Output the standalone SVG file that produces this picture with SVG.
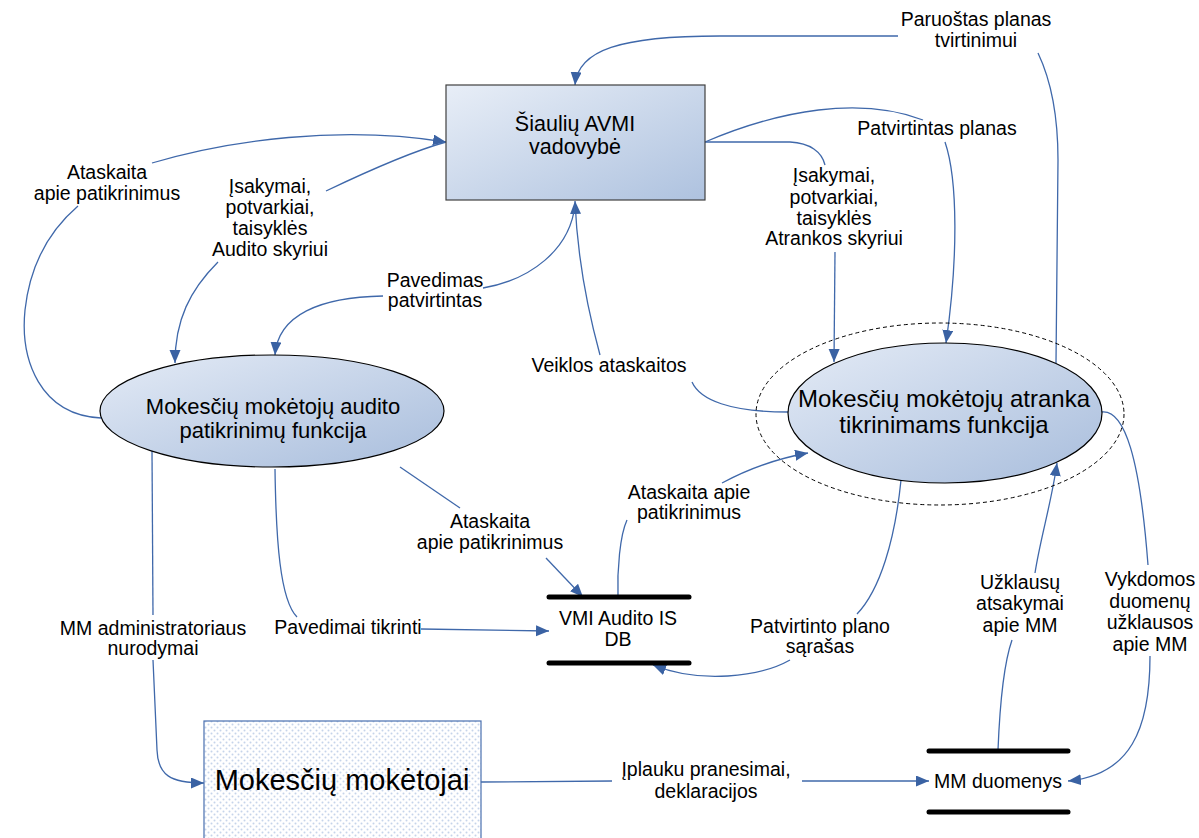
<svg xmlns="http://www.w3.org/2000/svg" width="1199" height="838" viewBox="0 0 1199 838">
<style>
.lbl{font-family:"Liberation Sans",Arial,sans-serif;font-size:19.5px;fill:#000;text-anchor:middle}
.big{font-family:"Liberation Sans",Arial,sans-serif;fill:#000;text-anchor:middle}
.cn{fill:none;stroke:#3f68aa;stroke-width:1.3}
.ar{marker-end:url(#ah)}
.store{stroke:#000;stroke-width:5;stroke-linecap:round}
</style>
<defs>
<marker id="ah" markerUnits="userSpaceOnUse" markerWidth="14" markerHeight="12" refX="13" refY="5.5" orient="auto">
<path d="M0,0 L13,5.5 L0,11 z" fill="#3a62a3"/>
</marker>
<linearGradient id="gr" x1="0" y1="0" x2="1" y2="1">
<stop offset="0" stop-color="#e8eef7"/>
<stop offset="1" stop-color="#aec2df"/>
</linearGradient>
<linearGradient id="ge" x1="0" y1="0" x2="1" y2="1">
<stop offset="0" stop-color="#e4ebf6"/>
<stop offset="1" stop-color="#a8bddc"/>
</linearGradient>
<pattern id="dots" patternUnits="userSpaceOnUse" width="6" height="6">
<rect width="6" height="6" fill="#fff"/>
<circle cx="1.5" cy="1.5" r="1" fill="#c6d4ea"/>
<circle cx="4.5" cy="4.5" r="1" fill="#c6d4ea"/>
</pattern>
</defs>

<g id="connectors">
<!-- Paruoštas planas tvirtinimui -->
<path class="cn" d="M1056,363 L1058,160 Q1058,95 1038,53"/>
<path class="cn ar" d="M898,36 L720,36 C620,36 578,50 575,85"/>
<!-- Patvirtintas planas -->
<path class="cn" d="M705,142 C780,110 860,96 923,120"/>
<path class="cn ar" d="M945,142 C958,180 958,260 946,343"/>
<!-- Įsakymai Atrankos -->
<path class="cn" d="M705,142 L790,142 C810,143 822,152 825,165"/>
<path class="cn ar" d="M835,252 L834,362"/>
<!-- Veiklos ataskaitos -->
<path class="cn" d="M788,412 C730,412 700,400 692,382"/>
<path class="cn ar" d="M600,355 C585,300 577,250 575,201"/>
<!-- Pavedimas patvirtintas -->
<path class="cn" d="M483,288 C530,280 570,250 575,205"/>
<path class="cn ar" d="M383,296 C320,297 278,315 275,355"/>
<!-- Ataskaita apie patikrinimus (left) -->
<path class="cn" d="M101,418 C40,415 20,360 25,310 C30,265 50,230 78,206"/>
<path class="cn ar" d="M152,163 C230,140 340,125 446,142"/>
<!-- Įsakymai Audito -->
<path class="cn" d="M326,191 C370,170 410,152 446,142"/>
<path class="cn ar" d="M218,262 C190,290 175,320 175,363"/>
<!-- Ataskaita apie patikrinimus (middle) -->
<path class="cn" d="M400,467 L460,508"/>
<path class="cn ar" d="M546,558 L583,597"/>
<!-- Ataskaita apie patikrinimus (DB to right) -->
<path class="cn" d="M618,597 C617,570 620,535 627,520"/>
<path class="cn ar" d="M722,483 C750,468 780,458 808,453"/>
<!-- Pavedimai tikrinti -->
<path class="cn" d="M275,469 C276,540 280,600 297,617"/>
<path class="cn ar" d="M421,629 L549,631"/>
<!-- Patvirtinto plano sąrašas -->
<path class="cn" d="M901,480 C895,540 880,590 857,614"/>
<path class="cn ar" d="M790,660 C760,677 700,684 653,665"/>
<!-- Užklausų atsakymai -->
<path class="cn" d="M998,750 C1000,700 1005,660 1012,640"/>
<path class="cn ar" d="M1035,573 C1040,540 1052,500 1057,463"/>
<!-- Vykdomos užklausos -->
<path class="cn" d="M1101,412 C1125,408 1140,460 1148,565"/>
<path class="cn ar" d="M1150,656 C1150,730 1130,775 1068,781"/>
<!-- MM administratoriaus -->
<path class="cn" d="M152,451 L153,615"/>
<path class="cn ar" d="M153,660 L157,750 C158,775 170,783 204,783"/>
<!-- Įplauku pranesimai -->
<path class="cn" d="M481,782 L612,781"/>
<path class="cn ar" d="M802,781 L929,781"/>
</g>

<g id="vadovybe">
<rect x="446" y="85" width="259" height="115" fill="url(#gr)" stroke="#404040" stroke-width="1.2"/>
<text class="big" font-size="21.5" x="575" y="131">Šiaulių AVMI</text>
<text class="big" font-size="21.5" x="575" y="154">vadovybė</text>
</g>

<g id="audito-funkcija">
<ellipse cx="272" cy="411" rx="172" ry="56" fill="url(#ge)" stroke="#000" stroke-width="1.2"/>
<text class="big" font-size="22" x="273" y="414">Mokesčių mokėtojų audito</text>
<text class="big" font-size="22" x="273" y="438">patikrinimų funkcija</text>
</g>

<g id="atranka-funkcija">
<ellipse cx="940" cy="414" rx="184" ry="91" fill="none" stroke="#000" stroke-width="1" stroke-dasharray="4,3"/>
<ellipse cx="945" cy="413" rx="157" ry="70" fill="url(#ge)" stroke="#000" stroke-width="1.2"/>
<text class="big" font-size="24" x="944" y="407">Mokesčių mokėtojų atranka</text>
<text class="big" font-size="24" x="944" y="433">tikrinimams funkcija</text>
</g>

<g id="vmi-db">
<line class="store" x1="549" y1="597" x2="689" y2="597"/>
<line class="store" x1="549" y1="663" x2="689" y2="663"/>
<text class="lbl" x="618" y="625">VMI Audito IS</text>
<text class="lbl" x="618" y="646">DB</text>
</g>

<g id="mm-duomenys">
<line class="store" x1="929" y1="751" x2="1068" y2="751"/>
<line class="store" x1="929" y1="812" x2="1068" y2="812"/>
<text class="lbl" x="998" y="788">MM duomenys</text>
</g>

<g id="mokesciu-moketojai">
<rect x="204" y="721" width="277" height="130" fill="url(#dots)" stroke="#4a70b0" stroke-width="1.2"/>
<text class="big" font-size="29" x="342" y="790">Mokesčių mokėtojai</text>
</g>

<g id="labels">
<text class="lbl" x="976" y="26">Paruoštas planas</text>
<text class="lbl" x="976" y="47">tvirtinimui</text>
<text class="lbl" x="937" y="135">Patvirtintas planas</text>
<text class="lbl" x="834" y="182">Įsakymai,</text>
<text class="lbl" x="834" y="203.5">potvarkiai,</text>
<text class="lbl" x="834" y="224.5">taisyklės</text>
<text class="lbl" x="834" y="245">Atrankos skyriui</text>
<text class="lbl" x="107" y="179">Ataskaita</text>
<text class="lbl" x="107" y="200">apie patikrinimus</text>
<text class="lbl" x="270" y="193">Įsakymai,</text>
<text class="lbl" x="270" y="214">potvarkiai,</text>
<text class="lbl" x="270" y="235">taisyklės</text>
<text class="lbl" x="270" y="256">Audito skyriui</text>
<text class="lbl" x="435" y="287">Pavedimas</text>
<text class="lbl" x="435" y="307">patvirtintas</text>
<text class="lbl" x="609" y="372">Veiklos ataskaitos</text>
<text class="lbl" x="490" y="528">Ataskaita</text>
<text class="lbl" x="490" y="549">apie patikrinimus</text>
<text class="lbl" x="689" y="499">Ataskaita apie</text>
<text class="lbl" x="689" y="519">patikrinimus</text>
<text class="lbl" x="348" y="634">Pavedimai tikrinti</text>
<text class="lbl" x="820" y="633">Patvirtinto plano</text>
<text class="lbl" x="820" y="653">sąrašas</text>
<text class="lbl" x="1020" y="589">Užklausų</text>
<text class="lbl" x="1020" y="610">atsakymai</text>
<text class="lbl" x="1020" y="632">apie MM</text>
<text class="lbl" x="1150" y="586">Vykdomos</text>
<text class="lbl" x="1150" y="607.5">duomenų</text>
<text class="lbl" x="1150" y="629">užklausos</text>
<text class="lbl" x="1150" y="650.5">apie MM</text>
<text class="lbl" x="153" y="635">MM administratoriaus</text>
<text class="lbl" x="153" y="655">nurodymai</text>
<text class="lbl" x="706" y="776">Įplauku pranesimai,</text>
<text class="lbl" x="706" y="798">deklaracijos</text>
</g>
</svg>
